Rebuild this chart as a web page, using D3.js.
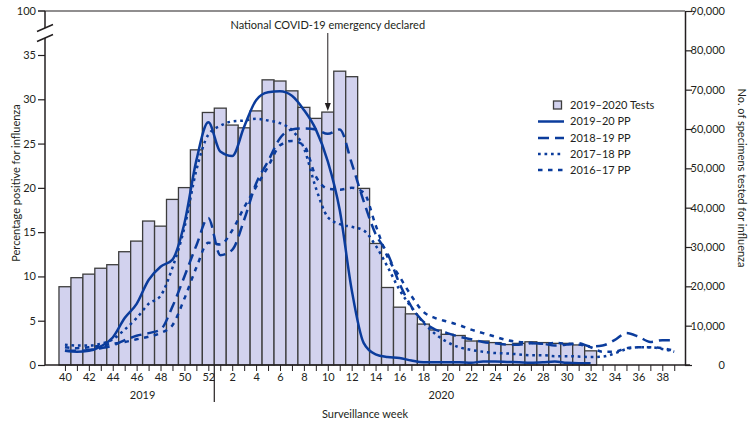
<!DOCTYPE html>
<html>
<head>
<meta charset="utf-8">
<script src="https://cdn.jsdelivr.net/npm/d3@7"></script>
<style>
  body { margin: 0; background: #ffffff; }
  text { font-family: Lato, "Open Sans", sans-serif; fill: #231f20; }
</style>
</head>
<body>
<div id="chart"></div>
<script>

// surveillance weeks, 2019 week 40 through 2020 week 39
const weeks = [40, 41, 42, 43, 44, 45, 46, 47, 48, 49, 50, 51, 52,
               1, 2, 3, 4, 5, 6, 7, 8, 9, 10, 11, 12, 13, 14, 15, 16, 17, 18, 19, 20,
               21, 22, 23, 24, 25, 26, 27, 28, 29, 30, 31, 32, 33, 34, 35, 36, 37, 38, 39];
const weekLabels = [40, 42, 44, 46, 48, 50, 52, 2, 4, 6, 8, 10, 12, 14, 16, 18, 20,
                    22, 24, 26, 28, 30, 32, 34, 36, 38];

// 2019-2020 specimens tested (weeks 40-32)
const tests = [19900, 22200, 23100, 24600, 25500, 28800, 31500, 36600, 35300, 42100, 45100, 54700, 64200,
               65300, 61000, 60300, 64600, 72500, 72200, 69700, 65500, 62700, 64300, 74700, 73300, 44900,
               30900, 19700, 14700, 13000, 10400, 8900, 7800, 7500, 6100, 6100, 5700, 5200, 5500, 5900,
               5700, 5500, 5500, 5100, 3600];

// percent positive by season
const pp2019_20 = [1.6, 1.5, 1.6, 2.1, 3.1, 5.3, 6.9, 9.6, 11.1, 11.9, 16.0, 23.1, 27.4,
                   24.1, 23.6, 26.9, 29.9, 30.8, 30.9, 30.4, 28.8, 26.6, 23.0, 17.5, 8.5, 2.5,
                   1.2, 0.9, 0.8, 0.5, 0.3, 0.3, 0.3, 0.3, 0.25, 0.4, 0.4, 0.35, 0.3, 0.25,
                   0.3, 0.4, 0.25, 0.2, 0.2];
const pp2018_19 = [1.6, 1.6, 1.7, 1.9, 2.2, 2.8, 3.3, 3.6, 4.0, 6.6, 10.0, 13.5, 16.6,
                   12.4, 13.0, 16.4, 20.5, 23.0, 25.6, 26.6, 26.7, 26.6, 26.1, 26.6, 22.8, 18.5,
                   14.8, 12.6, 9.2, 6.6, 4.9, 4.0, 3.6, 3.2, 2.9, 2.6, 2.45, 2.3, 2.3, 2.45,
                   2.4, 2.2, 2.3, 2.45, 2.1, 2.2, 2.8, 3.6, 3.2, 2.6, 2.8, 2.8];
const pp2017_18 = [2.3, 2.2, 2.2, 2.4, 2.9, 4.0, 5.3, 6.9, 7.8, 11.0, 15.5, 22.0, 26.0,
                   27.0, 27.5, 27.6, 27.8, 27.6, 27.3, 26.5, 24.5, 20.0, 16.7, 15.9, 15.6, 15.2,
                   13.5, 11.1, 8.5, 6.5, 4.8, 3.5, 2.6, 2.0, 1.7, 1.5, 1.35, 1.3, 1.2, 1.1,
                   1.1, 1.0, 1.0, 0.95, 0.9, 0.95, 1.3, 1.8, 2.0, 2.0, 1.8, 1.5];
const pp2016_17 = [2.0, 1.9, 2.0, 2.2, 2.4, 2.6, 2.9, 3.2, 3.6, 4.5, 7.5, 11.0, 13.8,
                   13.6, 15.2, 17.8, 20.1, 22.4, 24.8, 25.3, 24.8, 21.3, 19.9, 19.8, 20.0, 19.5,
                   15.8, 12.2, 10.0, 7.8, 6.0, 5.3, 4.9, 4.5, 4.0, 3.6, 3.2, 2.8, 2.6, 2.5,
                   2.4, 2.5, 2.4, 2.3, 2.0, 1.5, 1.5, 1.9, 2.0, 2.0, 1.9, 1.6];

const pctTicks = [0, 5, 10, 15, 20, 25, 30, 35];
const testTicks = [0, 10000, 20000, 30000, 40000, 50000, 60000, 70000, 80000, 90000];

const seriesNames = ['2019–20 PP', '2018–19 PP', '2017–18 PP', '2016–17 PP'];
const emergencyWeek = 10;


class FluChart {
  constructor(id_tag) {
    this.id_tag = id_tag;
    this.blue = '#0b3c9c';
    this.barFill = '#d2d2ee';
    this.barStroke = '#3d3d3d';
    this.dashes = [null, '11,6', '2.7,3.8', '4.5,5.5'];
  }

  doChart() {
    const svg = d3.select(this.id_tag)
      .append('svg')
        .attr('width', 750)
        .attr('height', 426);

    const x = d3.scaleLinear().domain([-1.67, 51.9]).range([45, 685]);
    const yPct = d3.scaleLinear().domain([0, 35]).range([365, 55]);
    const yTests = d3.scaleLinear().domain([0, 90000]).range([365, 11]);

    this.doBars(svg, x, yTests);
    this.doLines(svg, x, yPct);
    this.doAxes(svg, x, yPct, yTests);
    this.doAnnotation(svg, x, yTests);
    this.doLegend(svg);
  }

  doBars(svg, x, yTests) {
    svg.append('g')
      .selectAll('rect')
      .data(tests)
      .enter()
      .append('rect')
        .attr('x', (d, i) => x(i - 0.5))
        .attr('width', (d, i) => x(i + 0.5) - x(i - 0.5))
        .attr('y', d => yTests(d))
        .attr('height', d => yTests(0) - yTests(d))
        .style('fill', this.barFill)
        .style('stroke', this.barStroke)
        .style('stroke-width', 1.3);
  }

  doLines(svg, x, yPct) {
    const line = d3.line()
      .x((d, i) => x(i))
      .y(d => yPct(d))
      .curve(d3.curveMonotoneX);

    // draw oldest season first so 2019-20 sits on top
    const series = [pp2019_20, pp2018_19, pp2017_18, pp2016_17];
    for (let k = series.length - 1; k >= 0; k--) {
      svg.append('path')
        .datum(series[k])
        .attr('d', line)
        .style('fill', 'none')
        .style('stroke', this.blue)
        .style('stroke-width', 2.5)
        .style('stroke-dasharray', this.dashes[k]);
    }
  }

  doAxes(svg, x, yPct, yTests) {
    // bottom axis
    const xAxis = svg.append('g')
      .attr('transform', 'translate(0,365)')
      .call(d3.axisBottom(x)
        .tickValues(d3.range(weeks.length))
        .tickSize(6)
        .tickSizeOuter(0)
        .tickFormat(i => weekLabels.includes(weeks[i]) ? weeks[i] : ''));
    xAxis.select('.domain').attr('d', 'M45,0H690').style('stroke', '#231f20').style('stroke-width', 1.5);
    xAxis.selectAll('.tick line').style('stroke', '#231f20');
    xAxis.selectAll('text').style('font-size', '11px').attr('y', 8);

    // year divider
    svg.append('line')
      .attr('x1', x(12.5)).attr('x2', x(12.5))
      .attr('y1', 365).attr('y2', 402)
      .style('stroke', '#231f20').style('stroke-width', 1.2);

    svg.append('text').attr('x', x(6.5)).attr('y', 399)
      .attr('text-anchor', 'middle').style('font-size', '11px').text('2019');
    svg.append('text').attr('x', x(31.5)).attr('y', 399)
      .attr('text-anchor', 'middle').style('font-size', '11px').text('2020');
    svg.append('text').attr('x', 365).attr('y', 418)
      .attr('text-anchor', 'middle').style('font-size', '11px').text('Surveillance week');

    // left axis with break
    const yAxis = svg.append('g')
      .attr('transform', 'translate(45,0)')
      .call(d3.axisLeft(yPct).tickValues(pctTicks).tickSize(7).tickSizeOuter(0));
    yAxis.select('.domain').remove();
    yAxis.selectAll('.tick line').style('stroke', '#231f20').style('stroke-width', 1.2);
    yAxis.selectAll('text').style('font-size', '11px').attr('x', -9);

    const axisStroke = (sel) => sel.style('stroke', '#231f20').style('stroke-width', 1.5);
    svg.append('line').attr('x1', 45).attr('x2', 45).attr('y1', 365).attr('y2', 38).call(axisStroke);
    svg.append('line').attr('x1', 45).attr('x2', 45).attr('y1', 28).attr('y2', 11).call(axisStroke);
    svg.append('line').attr('x1', 37).attr('x2', 53).attr('y1', 31.5).attr('y2', 24.5).call(axisStroke);
    svg.append('line').attr('x1', 37).attr('x2', 53).attr('y1', 41.5).attr('y2', 34.5).call(axisStroke);
    svg.append('line').attr('x1', 38).attr('x2', 45).attr('y1', 11).attr('y2', 11).call(axisStroke);
    svg.append('text').attr('x', 36).attr('y', 11).attr('dy', '0.35em')
      .attr('text-anchor', 'end').style('font-size', '11px').text('100');

    // top frame
    svg.append('line').attr('x1', 45).attr('x2', 685).attr('y1', 11).attr('y2', 11)
      .style('stroke', '#231f20').style('stroke-width', 1.2);

    // right axis
    const rAxis = svg.append('g')
      .attr('transform', 'translate(685,0)')
      .call(d3.axisRight(yTests).tickValues(testTicks).tickSize(7).tickSizeOuter(0)
        .tickFormat(d3.format(',')));
    rAxis.select('.domain').style('stroke', '#231f20').style('stroke-width', 1.5);
    rAxis.selectAll('.tick line').style('stroke', '#231f20').style('stroke-width', 1.2);
    rAxis.selectAll('text').style('font-size', '11px').attr('x', 40).attr('text-anchor', 'end');

    // axis titles
    svg.append('text')
      .attr('transform', 'translate(16,183) rotate(-90)')
      .attr('text-anchor', 'middle').attr('dy', '0.35em')
      .style('font-size', '11px')
      .text('Percentage  positive for influenza');
    svg.append('text')
      .attr('transform', 'translate(742,178) rotate(90)')
      .attr('text-anchor', 'middle').attr('dy', '0.35em')
      .style('font-size', '11px')
      .text('No. of specimens tested for influenza');
  }

  doAnnotation(svg, x, yTests) {
    const i = weeks.indexOf(emergencyWeek);
    const ax = x(i);
    const tip = yTests(tests[i]) - 1;

    svg.append('text').attr('x', ax).attr('y', 29)
      .attr('text-anchor', 'middle').style('font-size', '11px')
      .text('National COVID-19 emergency declared');
    svg.append('line').attr('x1', ax).attr('x2', ax).attr('y1', 33).attr('y2', tip - 6)
      .style('stroke', '#231f20').style('stroke-width', 1);
    svg.append('path')
      .attr('d', `M${ax - 3},${tip - 8}L${ax + 3},${tip - 8}L${ax},${tip}Z`)
      .style('fill', '#231f20');
  }

  doLegend(svg) {
    const rows = [105, 121.5, 138, 154, 170];
    const legend = svg.append('g').attr('class', 'legend');

    legend.append('rect')
      .attr('x', 553.5).attr('y', rows[0] - 4)
      .attr('width', 8).attr('height', 8)
      .style('fill', this.barFill)
      .style('stroke', this.barStroke)
      .style('stroke-width', 1.3);
    legend.append('text')
      .attr('x', 570).attr('y', rows[0]).attr('dy', '0.35em')
      .style('font-size', '11px').text('2019–2020 Tests');

    const items = legend.selectAll('.legend-item')
      .data(seriesNames)
      .enter()
      .append('g')
      .attr('class', 'legend-item')
      .attr('transform', (d, i) => `translate(0, ${rows[i + 1]})`);

    items.append('line')
      .attr('x1', 538).attr('x2', 564)
      .style('stroke', this.blue)
      .style('stroke-width', 2.5)
      .style('stroke-dasharray', (d, i) => this.dashes[i]);

    items.append('text')
      .attr('x', 570).attr('dy', '0.35em')
      .style('font-size', '11px')
      .text(d => d);
  }
}

new FluChart('#chart').doChart();

</script>
</body>
</html>
